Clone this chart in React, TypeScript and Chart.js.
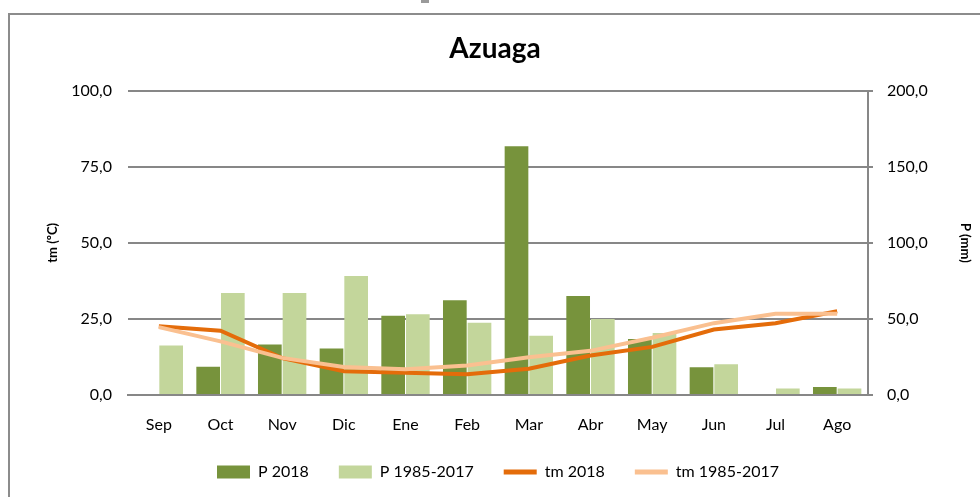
import React, { useEffect, useRef } from "react";
import { Chart, registerables } from "chart.js";

Chart.register(...registerables);

const months = ["Sep", "Oct", "Nov", "Dic", "Ene", "Feb", "Mar", "Abr", "May", "Jun", "Jul", "Ago"];
const p2018 = [0, 18.5, 33.2, 30.5, 52, 62.2, 163.4, 65, 36.8, 18.2, 0, 5.2];
const pNormal = [32.5, 67, 67, 78.2, 53, 47.4, 38.9, 50, 40.8, 20.2, 4.3, 4.3];
const tm2018 = [22.6, 21.1, 12.1, 7.8, 7.3, 6.8, 8.6, 13.0, 15.8, 21.5, 23.6, 27.5];
const tmNormal = [22.3, 17.6, 12.2, 9.2, 8.5, 9.7, 12.4, 14.5, 18.8, 23.6, 26.7, 26.7];
const leftTicks = [0, 25, 50, 75, 100];
const rightTicks = [0, 50, 100, 150, 200];

const GRID = "#878787";
const FONT = "Lato";
const fmt = (v: number) => v.toFixed(1).replace(".", ",");

export default function App() {
  const ref = useRef<HTMLCanvasElement | null>(null);
  useEffect(() => {
    if (!ref.current) return;
    const chart = new Chart(ref.current, {
      type: "bar",
      data: {
        labels: months,
        datasets: [
          { type: "bar", label: "P 2018", data: p2018, backgroundColor: "#77933C", yAxisID: "y1", order: 2, categoryPercentage: 0.8, barPercentage: 0.96 } as any,
          { type: "bar", label: "P 1985-2017", data: pNormal, backgroundColor: "#C3D69B", yAxisID: "y1", order: 2, categoryPercentage: 0.8, barPercentage: 0.96 } as any,
          { type: "line", label: "tm 2018", data: tm2018, borderColor: "#E46C0A", backgroundColor: "#E46C0A", borderWidth: 4, pointRadius: 0, tension: 0, yAxisID: "y", order: 1 } as any,
          { type: "line", label: "tm 1985-2017", data: tmNormal, borderColor: "#FAC090", backgroundColor: "#FAC090", borderWidth: 4, pointRadius: 0, tension: 0, yAxisID: "y", order: 0 } as any,
        ],
      },
      options: {
        animation: false,
        responsive: false,
        maintainAspectRatio: false,
        layout: { padding: { left: 0, right: 0, top: 0, bottom: 7 } },
        plugins: {
          tooltip: { enabled: false },
          title: {
            display: true,
            text: "Azuaga",
            color: "#000",
            font: { family: FONT, size: 28, weight: "bold" },
            padding: { top: 17, bottom: 25 },
          },
          legend: {
            position: "bottom",
            fullSize: false,
            labels: {
              color: "#000",
              font: { family: FONT, size: 16 },
              usePointStyle: true,
              pointStyleWidth: 33,
              boxHeight: 13,
              padding: 30,
              sort: (a: any, b: any) => a.datasetIndex - b.datasetIndex,
              generateLabels: (c: any) => {
                const items = Chart.defaults.plugins.legend.labels.generateLabels(c);
                return items.map((it: any) => {
                  const ds = c.data.datasets[it.datasetIndex];
                  if (ds.type === "line") {
                    return { ...it, pointStyle: "line", strokeStyle: ds.borderColor, lineWidth: 5 };
                  }
                  return { ...it, pointStyle: "rect", lineWidth: 0 };
                });
              },
            },
          },
        },
        scales: {
          x: {
            offset: true,
            grid: { display: false, drawTicks: false },
            border: { display: true, color: GRID, width: 2 },
            ticks: { color: "#000", font: { family: FONT, size: 16 }, padding: 20, maxRotation: 0 },
            afterFit: (s: any) => { s.height = 39; },
          },
          y: {
            position: "left",
            min: 0,
            max: 100,
            afterBuildTicks: (s: any) => { s.ticks = leftTicks.map((v) => ({ value: v })); },
            ticks: { color: "#000", font: { family: FONT, size: 16 }, padding: 16, callback: (v: any) => fmt(Number(v)) },
            grid: { color: GRID, lineWidth: 2, drawTicks: false },
            border: { display: false },
            title: { display: true, text: "tm (ºC)", color: "#000", font: { family: FONT, size: 13, weight: "bold" }, padding: { top: 35, bottom: 0 } },
            afterFit: (s: any) => { s.width = 118; },
          },
          y1: {
            position: "right",
            min: 0,
            max: 200,
            afterBuildTicks: (s: any) => { s.ticks = rightTicks.map((v) => ({ value: v })); },
            ticks: { color: "#000", font: { family: FONT, size: 16 }, padding: 14, callback: (v: any) => fmt(Number(v)) },
            grid: { drawOnChartArea: false, drawTicks: true, tickLength: 5, color: GRID, lineWidth: 2 },
            border: { display: true, color: GRID, width: 2 },
            title: { display: true, text: "P (mm)", color: "#000", font: { family: FONT, size: 13, weight: "bold" }, padding: { top: 7, bottom: 0 } },
            afterFit: (s: any) => { s.width = 112; },
          },
        },
      },
    });
    return () => chart.destroy();
  }, []);

  return (
    <div>
      <div style={{ position: "fixed", left: 421, top: 0, width: 8, height: 3, background: "#9a9a9a" }} />
      <div
        style={{
          position: "fixed",
          left: 8,
          top: 13,
          width: 972,
          height: 484,
          borderTop: "2px solid #8c8c8c",
          borderLeft: "2px solid #8c8c8c",
          background: "#fff",
        }}
      >
        <canvas ref={ref} width={970} height={482} style={{ display: "block", width: 970, height: 482 }} />
      </div>
    </div>
  );
}
